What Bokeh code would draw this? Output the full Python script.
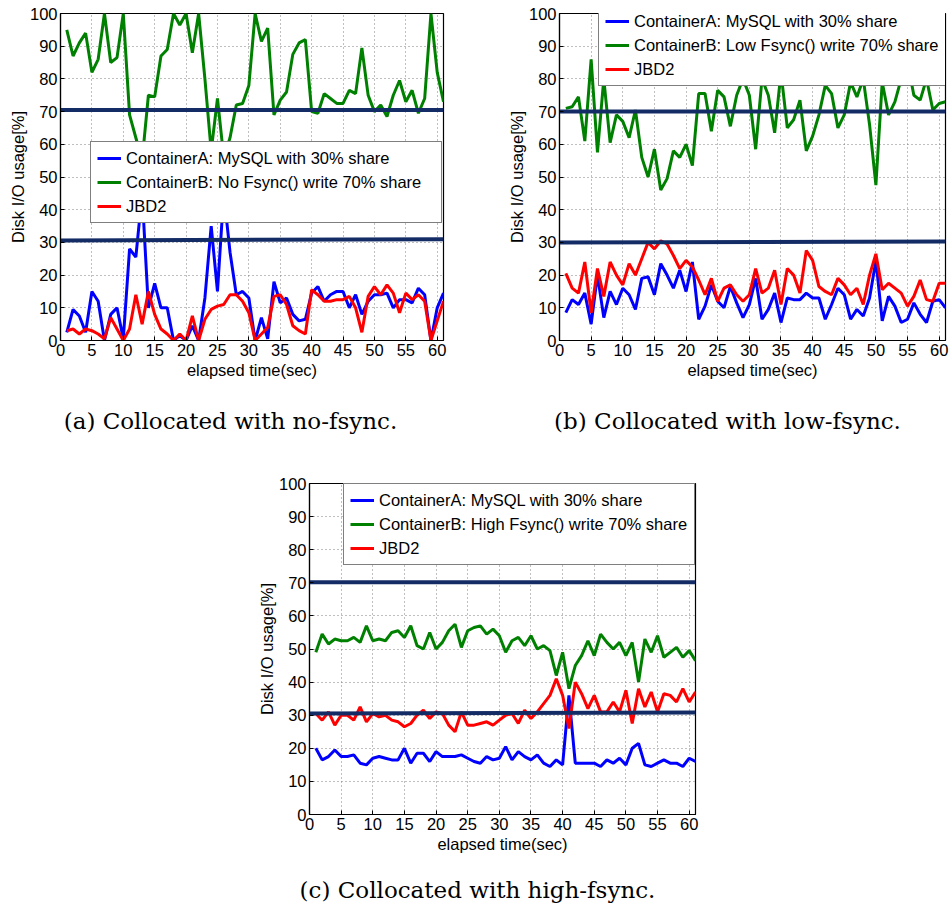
from bokeh.plotting import figure
from bokeh.models import Range1d, Legend, LegendItem, FixedTicker, ColumnDataSource
from bokeh.core.properties import value
from bokeh.layouts import column, row
from bokeh.embed import file_html
from bokeh.resources import INLINE

# ---------------- data ----------------
t = list(range(1, 62))

# (a) no-fsync
a_blue = [2.5, 9.5, 7.5, 2.5, 15, 12, 0, 8, 10, 0.5, 28, 25.5, 45, 10, 17.5, 10, 10, 0, 1.5, 0,
          4.5, 0, 13, 35, 15, 45, 27, 14, 15, 13, 0, 7, 0.5, 18, 11.5, 13, 8, 6, 6.5, 14.5,
          16.5, 12, 14, 15, 15, 10, 14, 8, 12, 14, 14, 14.5, 10, 12.5, 12.5, 11.5, 16, 14, 0, 10, 14.5]
a_green = [95, 87, 91, 94, 82, 86, 100, 85, 86.5, 100, 69, 62, 55, 75, 74.5, 87, 89, 100, 96.5, 100,
           88, 100, 80, 58, 74, 56, 62, 72, 72.5, 78, 100, 91.5, 95.5, 69, 73.5, 76, 87.5, 91, 92, 70,
           69.5, 75.5, 74, 72.5, 72.5, 76.5, 75.5, 89.5, 75, 70, 72, 68.5, 75, 79.5, 73, 76.5, 69.5, 74, 100, 82, 73]
a_red = [3, 3.5, 2, 3.5, 3, 2, 0.5, 7, 3.5, 0, 3.5, 14, 5, 15, 8, 3.5, 2, 0, 2, 0,
         7.5, 0, 6.5, 9.5, 10.5, 11, 14, 14, 12, 8.5, 0, 2, 4, 13.5, 14, 11, 4.5, 3, 2, 15.5,
         14, 12, 12, 12.5, 12.5, 13.5, 10, 2.5, 13.5, 16.5, 14, 17, 14.5, 8.5, 14.5, 12.5, 14, 12, 0, 6, 12]
a_share70 = [70.5, 70.5]
a_share30 = [30.6, 31.0]

# (b) low-fsync
b_blue = [8.5, 12.5, 11, 14.5, 5, 20, 7, 15, 11, 16, 14, 9.5, 19, 19.5, 14, 23.5, 20, 16, 21.5, 15,
          24, 6.5, 10.5, 17, 12, 10, 16.5, 11.5, 7, 11, 19, 6.5, 9.5, 14.5, 5.5, 13, 12.5, 12.5, 14.5, 13,
          13, 6.5, 11, 16, 14, 6.5, 9.5, 7.5, 13, 24.5, 6, 13.5, 10.5, 5.5, 6.5, 11.5, 8, 5.5, 12, 12.5, 10]
b_green = [71, 71.5, 74.5, 61, 86, 57.5, 80, 60.5, 69, 67, 62, 70.5, 56, 50, 58.5, 46, 49.5, 58, 56, 60,
           53.5, 75.5, 75.5, 64, 76.5, 74.5, 65.5, 75, 80, 75, 58.5, 80, 75, 63.5, 82, 65, 67.5, 73.5, 58, 62.5,
           69, 78, 75.5, 65, 69, 79, 74.5, 80, 66, 47.5, 79, 69, 73, 80, 85, 75, 73.5, 80, 70.5, 72.5, 73]
b_red = [20.5, 16, 14.5, 24, 8.5, 22, 13.5, 24, 20, 17, 23.5, 20, 25, 30, 28, 30.5, 29.5, 26, 22, 24.5,
         22.5, 18.5, 14, 19, 12, 16, 17, 14, 12, 14, 22, 14.5, 16, 21.5, 11, 22, 20, 14.5, 27.5, 24.5,
         16.5, 15, 14, 19, 17, 14, 16, 11, 20, 26.5, 15.5, 17.5, 16, 14.5, 10.5, 13.5, 18.5, 12.5, 12, 17.5, 17.5]
b_share70 = [70.0, 70.0]
b_share30 = [30.0, 30.3]

# (c) high-fsync
c_blue = [20, 16.5, 17.5, 19.5, 17.5, 17.5, 18, 15.5, 15, 17, 17.5, 17, 16.5, 16.5, 20, 15.5, 18.5, 18.5, 16, 19,
          17.5, 17.5, 17.5, 18, 17, 16, 15.5, 17.5, 16.5, 17, 20.5, 16.5, 19, 17.5, 16.5, 18, 15.5, 14.5, 16.5, 15,
          36, 15.5, 15.5, 15.5, 15.5, 14.5, 16.5, 15.5, 17, 15, 20, 21.5, 15, 14.5, 15.5, 16.5, 15.5, 15.5, 14.5, 17, 16]
c_green = [49, 54.5, 51.5, 53, 52.5, 52.5, 53.5, 52, 57, 52.5, 53, 52.5, 55, 55.5, 53.5, 57, 51, 50, 55, 50,
           52, 55.5, 57.5, 50.5, 55.5, 56.5, 57, 54.5, 56, 54, 49, 52.5, 53.5, 51, 54, 50, 51, 49.5, 42, 49,
           38, 45, 48, 52.5, 48, 54.5, 52, 50, 52, 48, 52, 40, 53, 49, 54, 47.5, 49, 50.5, 47.5, 49.5, 46.5]
c_red = [30.5, 28.5, 31, 27, 30, 30, 28.5, 32.5, 28, 30.5, 29.5, 30, 28.5, 28, 26.5, 27.5, 30, 31.5, 29, 31,
         30.5, 27, 25, 31, 27, 27, 27.5, 28, 27, 28.5, 30, 30.5, 27.5, 31.5, 29, 31, 33.5, 36, 41, 36,
         26, 40, 36.5, 32, 36, 31, 31, 34, 31, 37.5, 27.5, 38, 32.5, 37, 31, 36.5, 36, 34, 38, 34, 37]
c_share70 = [70.2, 70.2]
c_share30 = [30.5, 30.8]

share_x = [0, 61]
x_ticks = list(range(0, 61, 5))
y_ticks = list(range(0, 101, 10))

label_a = "ContainerA: MySQL with 30% share"
labels_b = ["ContainerB: No Fsync() write 70% share",
            "ContainerB: Low Fsync() write 70% share",
            "ContainerB: High Fsync() write 70% share"]
label_j = "JBD2"
captions = ["(a) Collocated with no-fsync.", "(b) Collocated with low-fsync.",
            "(c) Collocated with high-fsync."]

BLUE = "#0000ff"
GREEN = "#008000"
RED = "#ff0000"
NAVY = "#142c66"
SANS = "Liberation Sans"
SERIF = "DejaVu Serif"
FS = "16.5px"


def make_panel(width, height, bl, br, bt, bb, blue, green, red, s70, s30, lab_b, leg_xy, leg_w):
    p = figure(width=width, height=height, output_backend="svg", toolbar_location=None,
               x_range=Range1d(0, 61), y_range=Range1d(0, 100),
               min_border_left=bl, min_border_right=br, min_border_top=bt, min_border_bottom=bb)
    p.outline_line_color = "black"
    p.outline_line_width = 1.2
    p.background_fill_color = "white"
    p.border_fill_color = "white"

    rb = p.line(t, blue, line_color=BLUE, line_width=3)
    rg = p.line(t, green, line_color=GREEN, line_width=3)
    rr = p.line(t, red, line_color=RED, line_width=3)
    p.line(share_x, s70, line_color=NAVY, line_width=4)
    p.line(share_x, s30, line_color=NAVY, line_width=4)

    for ax in (p.xaxis[0], p.yaxis[0]):
        ax.major_label_text_font = SANS
        ax.major_label_text_font_size = FS
        ax.major_label_text_color = "black"
        ax.axis_label_text_font = SANS
        ax.axis_label_text_font_size = FS
        ax.axis_label_text_font_style = "normal"
        ax.axis_label_text_color = "black"
        ax.axis_line_color = "black"
        ax.axis_line_width = 1.2
        ax.major_tick_in = 4
        ax.major_tick_out = 0
        ax.minor_tick_in = 0
        ax.minor_tick_out = 0
        ax.major_tick_line_color = "black"
    p.xaxis[0].ticker = FixedTicker(ticks=x_ticks)
    p.yaxis[0].ticker = FixedTicker(ticks=y_ticks)
    p.xaxis[0].axis_label = "elapsed time(sec)"
    p.yaxis[0].axis_label = "Disk I/O usage[%]"
    p.xaxis[0].major_label_standoff = 3
    p.xaxis[0].axis_label_standoff = 2
    p.yaxis[0].major_label_standoff = 3
    p.yaxis[0].axis_label_standoff = 0

    for g in (p.xgrid[0], p.ygrid[0]):
        g.grid_line_color = "#7f7f7f"
        g.grid_line_dash = "1 3"
        g.grid_line_width = 1
    p.xgrid[0].ticker = FixedTicker(ticks=x_ticks)
    p.ygrid[0].ticker = FixedTicker(ticks=y_ticks)

    leg = Legend(items=[LegendItem(label=label_a, renderers=[rb]),
                        LegendItem(label=lab_b, renderers=[rg]),
                        LegendItem(label=label_j, renderers=[rr])],
                 location=leg_xy)
    leg.label_text_font = SANS
    leg.label_text_font_size = FS
    leg.label_text_color = "black"
    leg.padding = 6
    leg.margin = 0
    leg.spacing = 4
    leg.glyph_width = 24
    leg.glyph_height = 20
    leg.label_height = 20
    leg.label_standoff = 5
    leg.label_width = leg_w - 12 - 24 - 5
    leg.border_line_color = "black"
    leg.border_line_width = 1.2
    leg.background_fill_color = "white"
    leg.background_fill_alpha = 1.0
    p.add_layout(leg, "center")
    return p


pa = make_panel(490, 395, 60, 47, 13, 55, a_blue, a_green, a_red, a_share70, a_share30,
                labels_b[0], (30, 117), 350)
pb = make_panel(459, 395, 69, 4, 11, 52, b_blue, b_green, b_red, b_share70, b_share30,
                labels_b[1], (39, 254), 347)
pc = make_panel(949, 394, 309, 254, 13, 50, c_blue, c_green, c_red, c_share70, c_share30,
                labels_b[2], (34, 249), 350)


def caption_fig(height, texts, xs, ys):
    f = figure(width=949, height=height, output_backend="svg", toolbar_location=None,
               x_range=Range1d(0, 949), y_range=Range1d(height, 0),
               min_border_left=0, min_border_right=0, min_border_top=0, min_border_bottom=0,
               x_axis_location=None, y_axis_location=None)
    f.grid.visible = False
    f.outline_line_color = None
    src = ColumnDataSource(dict(x=xs, y=ys, text=texts))
    f.text(x="x", y="y", text="text", source=src, text_font=value(SERIF), text_font_size="23px",
           text_align="center", text_baseline="middle", text_color="black")
    return f


cap1 = caption_fig(75, captions[:2], [230, 727], [25, 25])
cap2 = caption_fig(42, captions[2:], [477], [25])

# each child wrapped in its own row so the column does not align plot frames
layout = column(row(pa, pb), row(cap1), row(pc), row(cap2))
open("out.html", "w").write(file_html(layout, INLINE))
